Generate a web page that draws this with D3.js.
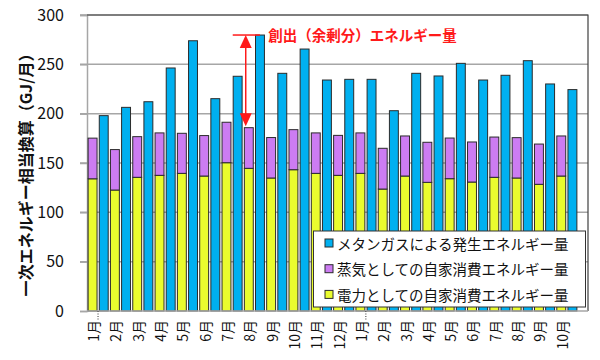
<!DOCTYPE html>
<html><head><meta charset="utf-8">
<script src="https://cdn.jsdelivr.net/npm/d3@7"></script>
<style>
html,body{margin:0;padding:0;background:#fff;}
svg{display:block;}
text{font-family:"Noto Sans CJK JP","Noto Sans",sans-serif;}
</style></head>
<body>
<svg id="chart" width="600" height="360"></svg>
<script>
const months = ["1月","2月","3月","4月","5月","6月","7月","8月","9月","10月","11月","12月",
                "1月","2月","3月","4月","5月","6月","7月","8月","9月","10月"];
const electricity = [134,122.6,135.5,137.5,139.5,136.8,150.3,144.6,134.8,143.2,139.5,137.5,
                     139.5,123.6,136.8,130.4,134.1,130.7,135.5,134.8,128.4,136.8];
const steam = [41.2,41,41.2,43,40.6,41,41,41.2,41,40.6,41,40.5,
               41,41.3,40.6,40.6,41.2,40.6,40.8,40.9,40.8,40.6];
const methane = [198,206.4,212.1,246.3,273.9,215.2,237.9,279.7,240.9,265.5,234.1,234.8,
                 234.8,203,240.9,238.2,251,234.1,238.9,253.7,230.1,224.4];
const yTicks = [0,50,100,150,200,250,300];
const seriesNames = ["メタンガスによる発生エネルギー量","蒸気としての自家消費エネルギー量","電力としての自家消費エネルギー量"];
const yearStarts = [0,12];
const annotationIndex = 7;
const annotationText = "創出（余剰分）エネルギー量";
const yTitle = "一次エネルギー相当換算（GJ/月）";

const colors = {methane:"#00B0F0", steam:"#CC7CF2", elec:"#EAFC2E"};

const svg = d3.select("#chart");
const L = 87, R = 588, T = 15, B = 311, XR = 578;

const y = d3.scaleLinear().domain([0,300]).range([B,T]);
const x0 = d3.scaleBand().domain(d3.range(months.length)).range([L, XR]).paddingInner(0).paddingOuter(0);
const x1 = d3.scaleBand().domain(["stack","blue"]).range([0, x0.bandwidth()]).paddingInner(0.2).paddingOuter(0.1);
const bw = x1.bandwidth();

// gridlines
svg.append("g").selectAll("line").data(yTicks.filter(d=>d>0)).join("line")
  .attr("x1", L-7).attr("x2", R).attr("y1", d=>y(d)).attr("y2", d=>y(d))
  .attr("stroke","#a6a6a6").attr("stroke-width",1.5);

// y axis
const yAxis = d3.axisLeft(y).tickValues(yTicks).tickSize(7).tickPadding(16).tickFormat(d3.format("d"));
const ga = svg.append("g").attr("transform",`translate(${L},0)`).call(yAxis);
ga.select(".domain").attr("stroke","#a6a6a6").attr("stroke-width",1.5);
ga.selectAll(".tick line").attr("stroke","#a6a6a6").attr("stroke-width",1.5);
ga.selectAll(".tick text").attr("font-family","'Noto Sans',sans-serif").attr("font-size",16).attr("fill","#111");

// frame top/right
svg.append("path").attr("d",`M${L},${T}H${R}V${B}`).attr("fill","none").attr("stroke","#404040").attr("stroke-width",1.2);

// bars
const g = svg.append("g");
const idx = d3.range(months.length);
g.selectAll("rect.e").data(idx).join("rect").attr("class","e")
  .attr("x", i=>x0(i)+x1("stack")).attr("width", bw)
  .attr("y", i=>y(electricity[i])).attr("height", i=>y(0)-y(electricity[i]))
  .attr("fill",colors.elec).attr("stroke","#2b2b2b").attr("stroke-width",1);
g.selectAll("rect.s").data(idx).join("rect").attr("class","s")
  .attr("x", i=>x0(i)+x1("stack")).attr("width", bw)
  .attr("y", i=>y(electricity[i]+steam[i])).attr("height", i=>y(electricity[i])-y(electricity[i]+steam[i]))
  .attr("fill",colors.steam).attr("stroke","#2b2b2b").attr("stroke-width",1);
g.selectAll("rect.m").data(idx).join("rect").attr("class","m")
  .attr("x", i=>x0(i)+x1("blue")).attr("width", bw)
  .attr("y", i=>y(methane[i])).attr("height", i=>y(0)-y(methane[i]))
  .attr("fill",colors.methane).attr("stroke","#2b2b2b").attr("stroke-width",1);

// bottom axis line
svg.append("line").attr("x1",L).attr("x2",R).attr("y1",B).attr("y2",B).attr("stroke","#a6a6a6").attr("stroke-width",1.5);

// x labels
svg.append("g").selectAll("text").data(idx).join("text")
  .attr("transform", i=>`translate(${x0(i)+x1("stack")+bw/2+0.5},${B+9}) rotate(-90)`)
  .attr("text-anchor","end").attr("dominant-baseline","central")
  .attr("font-size",14).attr("fill","#111")
  .text(i=>months[i]);

// dotted year separators
svg.append("g").selectAll("line").data(yearStarts).join("line")
  .attr("x1", i=>x0(i)+x1("stack")+bw+1).attr("x2", i=>x0(i)+x1("stack")+bw+1)
  .attr("y1", B).attr("y2", B+9)
  .attr("stroke","#333").attr("stroke-width",1).attr("stroke-dasharray","1,1.5");

// y title
svg.append("text").attr("transform",`translate(25,${(T+B)/2+8}) rotate(-90)`)
  .attr("text-anchor","middle").attr("dominant-baseline","central")
  .attr("font-size",16).attr("font-weight","bold").attr("fill","#111").text(yTitle);

// annotation
const ai = annotationIndex;
const ax = x0(ai) + 2.5;
const yTop = y(methane[ai]);
const yBot = y(electricity[ai]+steam[ai]) - 1.5;
const red = "#FF1A1A";
svg.append("line").attr("x1", x0(ai)-10.5).attr("x2", x0(ai)+x1("blue")+bw/2).attr("y1",yTop).attr("y2",yTop)
  .attr("stroke",red).attr("stroke-width",1.5);
svg.append("line").attr("x1",ax).attr("x2",ax).attr("y1",yTop+10).attr("y2",yBot-10)
  .attr("stroke",red).attr("stroke-width",1.5);
svg.append("path").attr("d",`M${ax},${yTop}L${ax-6},${yTop+13}L${ax+6},${yTop+13}Z`).attr("fill",red);
svg.append("path").attr("d",`M${ax},${yBot}L${ax-6},${yBot-13}L${ax+6},${yBot-13}Z`).attr("fill",red);
svg.append("text").attr("x", x0(ai)+25).attr("y", yTop-1).attr("dominant-baseline","central")
  .attr("font-size",14.5).attr("font-weight","bold").attr("fill",red).text(annotationText);

// legend
const lg = svg.append("g").attr("transform","translate(313.5,231)");
lg.append("rect").attr("width",272).attr("height",76).attr("fill","#fff").attr("stroke","#333").attr("stroke-width",1);
const legColors = [colors.methane, colors.steam, colors.elec];
const items = lg.selectAll("g").data(seriesNames).join("g").attr("transform",(d,i)=>`translate(0,${12+i*25.7})`);
items.append("rect").attr("x",11.5).attr("y",-4).attr("width",8).attr("height",8)
  .attr("fill",(d,i)=>legColors[i]).attr("stroke","#2b2b2b").attr("stroke-width",1);
items.append("text").attr("x",23.5).attr("y",0).attr("dominant-baseline","central")
  .attr("font-size",14.5).attr("fill","#111").text(d=>d);
</script>
</body></html>
